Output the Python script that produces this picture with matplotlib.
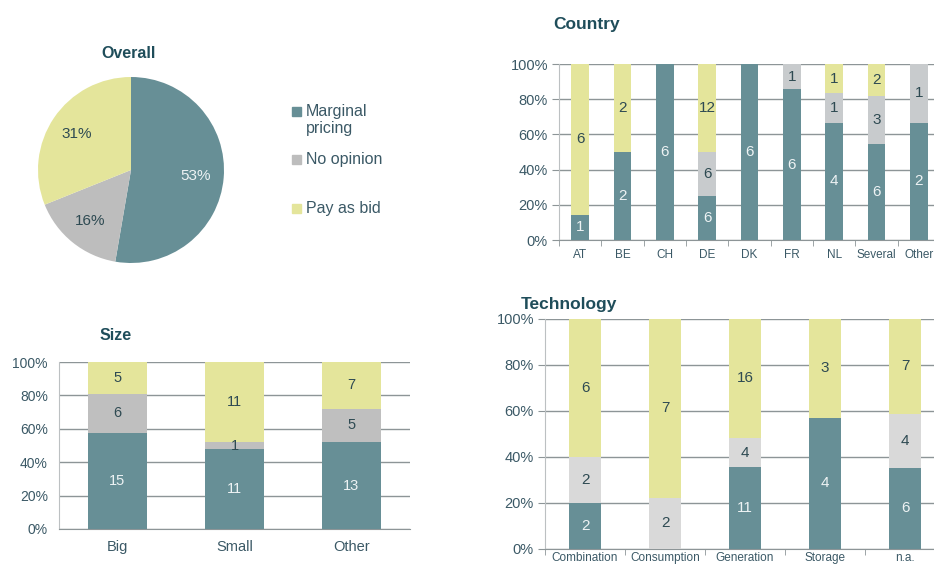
import numpy as np
import matplotlib
matplotlib.use('Agg')
import matplotlib.pyplot as plt
from matplotlib.patches import Rectangle
from matplotlib.ticker import FixedLocator, PercentFormatter

plt.rcParams['font.family'] = ['Liberation Sans', 'DejaVu Sans']

# ── data ───────────────────────────────────────────────
answers = ['Marginal pricing', 'No opinion', 'Pay as bid']
overall_counts = [39, 12, 23]

country_cats = ['AT', 'BE', 'CH', 'DE', 'DK', 'FR', 'NL', 'Several', 'Other']
country_marginal = [1, 2, 6, 6, 6, 6, 4, 6, 2]
country_noop = [0, 0, 0, 6, 0, 1, 1, 3, 1]
country_payasbid = [6, 2, 0, 12, 0, 0, 1, 2, 0]

size_cats = ['Big', 'Small', 'Other']
size_marginal = [15, 11, 13]
size_noop = [6, 1, 5]
size_payasbid = [5, 11, 7]

tech_cats = ['Combination', 'Consumption', 'Generation', 'Storage', 'n.a.']
tech_marginal = [2, 0, 11, 4, 6]
tech_noop = [2, 2, 4, 0, 4]
tech_payasbid = [6, 7, 16, 3, 7]

# ── style ──────────────────────────────────────────────
TEAL = '#678f96'
YELLOW = '#e4e59b'
TITLE_C = '#1f4d5a'
TICK_C = '#3b5966'
GRID_C = '#8d9597'
SPINE_C = '#bcc0c2'
LIGHT_TXT = '#eef3f4'
DARK_TXT = '#2e4a52'

W, H = 934, 566
fig = plt.figure(figsize=(W / 100, H / 100), dpi=100)


def px_axes(left, top, right, bottom):
    return fig.add_axes([left / W, 1 - bottom / H, (right - left) / W, (bottom - top) / H])


def stacked(ax, cats, series, greys, width, lab_size, tick_size, xlab_size,
            xpad, boundary_ticks, ytick_out):
    x = np.arange(len(cats))
    totals = np.sum(series, axis=0)
    bottom = np.zeros(len(cats))
    colors = [TEAL, greys, YELLOW]
    txt_colors = [LIGHT_TXT, DARK_TXT, DARK_TXT]
    for vals, c, tc in zip(series, colors, txt_colors):
        share = np.array(vals) / totals
        ax.bar(x, share, width, bottom=bottom, color=c, linewidth=0, zorder=3)
        for xi, v, b, s in zip(x, vals, bottom, share):
            if v > 0:
                ax.text(xi, b + s / 2, str(v), ha='center', va='center',
                        color=tc, fontsize=lab_size, zorder=4)
        bottom += share
    ax.set_xlim(-0.5, len(cats) - 0.5)
    ax.set_ylim(0, 1)
    ax.yaxis.set_major_locator(FixedLocator(np.linspace(0, 1, 6)))
    ax.yaxis.set_major_formatter(PercentFormatter(1.0, decimals=0))
    ax.grid(axis='y', color=GRID_C, linewidth=1.0, zorder=0)
    ax.set_axisbelow(True)
    ax.set_xticks(x)
    ax.set_xticklabels(cats, fontsize=xlab_size, color=TICK_C)
    ax.tick_params(axis='x', length=0, pad=xpad)
    if boundary_ticks:
        ax.set_xticks(np.arange(len(cats) + 1) - 0.5, minor=True)
        ax.tick_params(axis='x', which='minor', length=4, color=GRID_C, direction='out')
    ax.tick_params(axis='y', labelsize=tick_size, labelcolor=TICK_C,
                   length=ytick_out, color=GRID_C, pad=3)
    for s in ['top', 'right']:
        ax.spines[s].set_visible(False)
    ax.spines['left'].set_color(SPINE_C)
    ax.spines['bottom'].set_color(GRID_C)


# ── Overall pie ────────────────────────────────────────
ax_pie = px_axes(38, 77, 224, 263)
wedges, _, autotexts = ax_pie.pie(
    overall_counts, colors=[TEAL, '#bdbdbd', YELLOW], startangle=90,
    counterclock=False, autopct='%1.0f%%', pctdistance=0.7,
    wedgeprops=dict(linewidth=0), textprops=dict(fontsize=11))
for t, c in zip(autotexts, [LIGHT_TXT, DARK_TXT, DARK_TXT]):
    t.set_color(c)
ax_pie.set_xlim(-1, 1)
ax_pie.set_ylim(-1, 1)
fig.text(129 / W, 1 - 53 / H, 'Overall', ha='center', va='center',
         fontsize=11.5, fontweight='bold', color=TITLE_C)

# legend
leg_labels = ['Marginal\npricing', 'No opinion', 'Pay as bid']
leg_y = [111, 159, 208]
for lab, c, y in zip(leg_labels, [TEAL, '#bdbdbd', YELLOW], leg_y):
    fig.patches.append(Rectangle((292 / W, 1 - (y + 4.5) / H), 9 / W, 9 / H,
                                 transform=fig.transFigure, color=c))
    fig.text(306 / W, 1 - (y - 7) / H, lab, ha='left', va='top', fontsize=11.5,
             color=TICK_C, linespacing=1.15)

# ── Country ────────────────────────────────────────────
ax_c = px_axes(559, 64, 940, 240)
stacked(ax_c, country_cats, [country_marginal, country_noop, country_payasbid],
        '#c8cbcd', 0.41, 11, 10.5, 8.5, 6.5, True, 5)
fig.text(553 / W, 1 - 24 / H, 'Country', ha='left', va='center',
         fontsize=12.5, fontweight='bold', color=TITLE_C)

# ── Size ───────────────────────────────────────────────
ax_s = px_axes(59, 362, 410, 529)
stacked(ax_s, size_cats, [size_marginal, size_noop, size_payasbid],
        '#bfbfbf', 0.51, 10.5, 10, 10.5, 8, False, 0)
ax_s.tick_params(axis='y', pad=8)
fig.text(100 / W, 1 - 336 / H, 'Size', ha='left', va='center',
         fontsize=11.5, fontweight='bold', color=TITLE_C)

# ── Technology ─────────────────────────────────────────
ax_t = px_axes(545, 319, 945, 549)
stacked(ax_t, tech_cats, [tech_marginal, tech_noop, tech_payasbid],
        '#d9d9d9', 0.4, 11, 10.5, 8.5, 2, True, 5)
fig.text(521 / W, 1 - 304 / H, 'Technology', ha='left', va='center',
         fontsize=12.5, fontweight='bold', color=TITLE_C)

fig.savefig('out.png', dpi=100)
